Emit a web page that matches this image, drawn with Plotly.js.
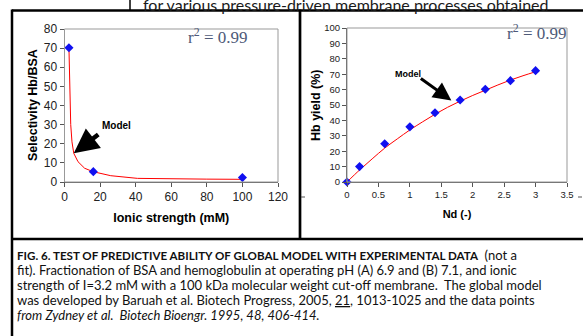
<!DOCTYPE html>
<html>
<head>
<meta charset="utf-8">
<script src="https://cdn.plot.ly/plotly-3.0.1.min.js"></script>
<style>html,body{margin:0;padding:0;background:#fff;}#chart{width:583px;height:336px;}</style>
</head>
<body>
<div id="chart"></div>
<script>
// ---- Panel A: selectivity vs ionic strength ----
var ionicPts = [2.5, 16.2, 100];
var selectPts = [70.2, 5.4, 2.3];
var ionicModel = [2.5, 2.9, 3.5, 4.2, 5.2, 7.6, 11.3, 16, 26, 41, 60, 80, 100];
var selectModel = [70.2, 47, 30, 21, 15, 10.6, 7.2, 5.4, 3.3, 1.9, 1.6, 1.5, 1.4];

// ---- Panel B: Hb yield vs Nd ----
var ndPts = [0, 0.2, 0.6, 1.0, 1.4, 1.8, 2.2, 2.6, 3.0];
var yieldPts = [0, 10, 24.8, 35.8, 45, 53.2, 60.2, 65.8, 72.3];
var ndModel = [0, 0.2, 0.4, 0.6, 0.8, 1.0, 1.2, 1.4, 1.6, 1.8, 2.0, 2.2, 2.4, 2.6, 2.8, 3.0];
var yieldModel = [0, 7.8, 15, 22, 28, 33.8, 39, 44, 48.5, 52.5, 56.2, 59.6, 63, 66.2, 69, 71.6];

var captionLines = [
  '<span style="font-size:11.6px"><b>FIG. 6. TEST OF PREDICTIVE ABILITY OF GLOBAL MODEL WITH EXPERIMENTAL DATA</b></span>  (not a',
  'fit). Fractionation of BSA and hemoglobulin at operating pH (A) 6.9 and (B) 7.1, and ionic',
  'strength of I=3.2 mM with a 100 kDa molecular weight cut-off membrane.  The global model',
  'was developed by Baruah et al. Biotech Progress, 2005, <u>21</u>, 1013-1025 and the data points',
  '<i>from Zydney et al.  Biotech Bioengr. 1995, 48, 406-414.</i>'
];
var strayTop = 'for various pressure-driven membrane processes obtained';

var W = 583, H = 336;
function PX(p){ return p / W; }
function PY(p){ return 1 - p / H; }

var markerStyle = {symbol: 'diamond', size: 7, color: '#1010f0'};
var lineStyle = {color: '#ff0000', width: 1};

var traces = [
  {x: ionicModel, y: selectModel, xaxis: 'x', yaxis: 'y', mode: 'lines', line: lineStyle, hoverinfo: 'skip'},
  {x: ionicPts, y: selectPts, xaxis: 'x', yaxis: 'y', mode: 'markers', marker: markerStyle, cliponaxis: false},
  {x: ndModel, y: yieldModel, xaxis: 'x2', yaxis: 'y2', mode: 'lines', line: {color: '#ff0000', width: 1, shape: 'spline'}, hoverinfo: 'skip'},
  {x: ndPts, y: yieldPts, xaxis: 'x2', yaxis: 'y2', mode: 'markers', marker: markerStyle, cliponaxis: false}
];

var tickFontA = {family: 'Liberation Sans, Arial, sans-serif', size: 12, color: '#222'};
var tickFontB = {family: 'Liberation Sans Narrow, Arial Narrow, Liberation Sans, sans-serif', size: 9.5, color: '#222'};
var titleFont = {family: 'Liberation Sans, Arial, sans-serif', size: 12.5, color: '#000'};

var axBase = {showgrid: false, zeroline: false, showline: true, linecolor: '#555', linewidth: 1,
              ticks: 'outside', ticklen: 4, tickcolor: '#555', tickwidth: 1, fixedrange: true};

var layout = {
  width: W, height: H,
  margin: {l: 0, r: 0, t: 0, b: 0},
  paper_bgcolor: '#fff', plot_bgcolor: '#fff',
  showlegend: false,
  xaxis: Object.assign({}, axBase, {domain: [PX(64.5), PX(278)], range: [0, 120], dtick: 20, tickfont: tickFontA,
    title: {text: '<b>Ionic strength (mM)</b>', font: titleFont, standoff: 9}}),
  yaxis: Object.assign({}, axBase, {domain: [PY(182), PY(29)], range: [0, 80], dtick: 10, tickfont: tickFontA}),
  xaxis2: Object.assign({}, axBase, {anchor: 'y2', domain: [PX(347), PX(567)], range: [0, 3.5], dtick: 0.5, tickfont: tickFontB,
    title: {text: '<b>Nd (-)</b>', font: {family: 'Liberation Sans, Arial, sans-serif', size: 11, color: '#000'}, standoff: 10}}),
  yaxis2: Object.assign({}, axBase, {anchor: 'x2', domain: [PY(182), PY(28)], range: [0, 100], dtick: 10, tickfont: tickFontB}),
  shapes: [
    // plot-area boxes (light grey)
    {type: 'rect', xref: 'x domain', yref: 'y domain', x0: 0, x1: 1, y0: 0, y1: 1, line: {color: '#999', width: 1}},
    {type: 'rect', xref: 'x2 domain', yref: 'y2 domain', x0: 0, x1: 1, y0: 0, y1: 1, line: {color: '#999', width: 1}},
    // page frame lines
    {type: 'line', xref: 'paper', yref: 'paper', x0: PX(12), x1: 1, y0: PY(10.5), y1: PY(10.5), line: {color: '#000', width: 2.5}},
    {type: 'line', xref: 'paper', yref: 'paper', x0: PX(12), x1: PX(12), y0: PY(9.5), y1: 0, line: {color: '#000', width: 2.5}},
    {type: 'line', xref: 'paper', yref: 'paper', x0: PX(300), x1: PX(300), y0: PY(9.5), y1: PY(239), line: {color: '#000', width: 2.7}},
    {type: 'line', xref: 'paper', yref: 'paper', x0: PX(12), x1: 1, y0: PY(239), y1: PY(239), line: {color: '#000', width: 2.5}},
    {type: 'line', xref: 'paper', yref: 'paper', x0: PX(130), x1: PX(130), y0: 1, y1: PY(10), line: {color: '#000', width: 1.5}},
    // small stray tick marks outside panels
    {type: 'line', xref: 'paper', yref: 'paper', x0: PX(301), x1: PX(305), y0: PY(197), y1: PY(197), line: {color: '#555', width: 1}},
    {type: 'line', xref: 'paper', yref: 'paper', x0: PX(578), x1: PX(582), y0: PY(197), y1: PY(197), line: {color: '#555', width: 1}}
  ],
  annotations: []
};

var ann = layout.annotations;
// y axis titles
ann.push({xref: 'paper', yref: 'paper', x: PX(33), y: PY(105), xanchor: 'center', yanchor: 'middle', textangle: -90,
  text: '<b>Selectivity Hb/BSA</b>', showarrow: false, font: titleFont});
ann.push({xref: 'paper', yref: 'paper', x: PX(316), y: PY(105), xanchor: 'center', yanchor: 'middle', textangle: -90,
  text: '<b>Hb yield (%)</b>', showarrow: false, font: titleFont});
// r^2 labels
var rFont = {family: 'Liberation Serif, Times New Roman, serif', size: 17, color: '#4e5a78'};
ann.push({xref: 'paper', yref: 'paper', x: PX(217.5), y: PY(36), xanchor: 'center', yanchor: 'middle', text: 'r<sup>2</sup> = 0.99', showarrow: false, font: rFont});
ann.push({xref: 'paper', yref: 'paper', x: PX(568), y: PY(32), xanchor: 'right', yanchor: 'middle', text: 'r<sup>2</sup> = 0.99', showarrow: false, font: rFont});
// Model labels and arrows
ann.push({xref: 'paper', yref: 'paper', x: PX(116.5), y: PY(125), xanchor: 'center', yanchor: 'middle', text: '<b>Model</b>', showarrow: false,
  font: {family: 'Liberation Sans, Arial, sans-serif', size: 10, color: '#000'}});
ann.push({xref: 'x', yref: 'y', x: 5.2, y: 15, ax: 26, ay: -20, text: '', showarrow: true, arrowhead: 2, arrowsize: 1.1, arrowwidth: 4.5, arrowcolor: '#000'});
ann.push({xref: 'paper', yref: 'paper', x: PX(407.5), y: PY(74), xanchor: 'center', yanchor: 'middle', text: '<b>Model</b>', showarrow: false,
  font: {family: 'Liberation Sans Narrow, Arial Narrow, Liberation Sans, sans-serif', size: 9, color: '#000'}});
ann.push({xref: 'x2', yref: 'y2', x: 1.66, y: 53, ax: -32, ay: -23, text: '', showarrow: true, arrowhead: 2, arrowsize: 1.2, arrowwidth: 3, arrowcolor: '#000'});
// stray text at top
ann.push({xref: 'paper', yref: 'paper', x: PX(141), y: PY(5), xanchor: 'left', yanchor: 'middle', text: strayTop, showarrow: false,
  font: {family: 'Lato, Open Sans, sans-serif', size: 16, color: '#1a1a1a'}});
// caption
var capY = [255, 270, 285, 300, 315];
for (var i = 0; i < captionLines.length; i++) {
  ann.push({xref: 'paper', yref: 'paper', x: PX(14.5), y: PY(capY[i]), xanchor: 'left', yanchor: 'middle', text: captionLines[i], showarrow: false,
    font: {family: 'Lato, Open Sans, sans-serif', size: 13, color: '#111'}});
}

Plotly.newPlot('chart', traces, layout, {staticPlot: true, displayModeBar: false});
</script>
</body>
</html>
